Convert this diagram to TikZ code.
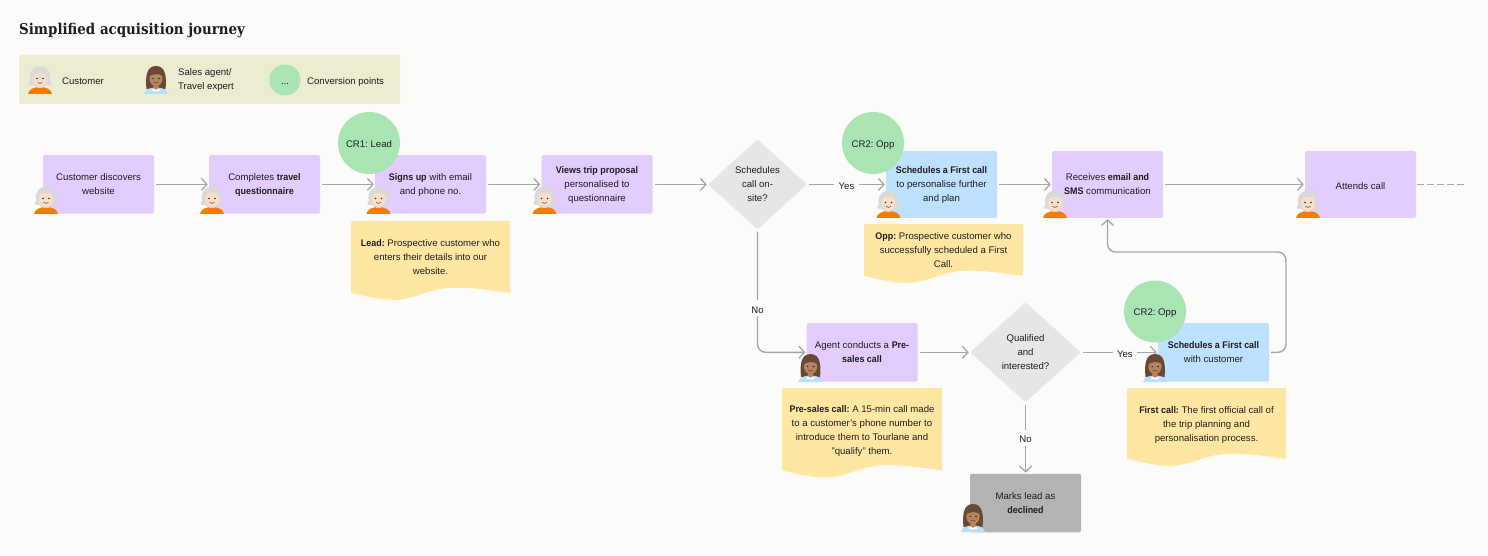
\documentclass[tikz,border=0pt]{standalone}
\usepackage{fontspec}
\setmainfont{Liberation Sans}[BoldFeatures={FakeStretch=0.93}]
\newfontfamily\titlefont{DejaVu Serif Condensed}
\usetikzlibrary{arrows.meta,shapes.geometric}
\definecolor{bgc}{HTML}{FBFBF9}
\definecolor{purp}{HTML}{E3CCFF}
\definecolor{blu}{HTML}{BDE1FF}
\definecolor{yel}{HTML}{FFE7A3}
\definecolor{grn}{HTML}{A9E4B3}
\definecolor{dia}{HTML}{E6E6E6}
\definecolor{gry}{HTML}{B3B3B3}
\definecolor{leg}{HTML}{ECECD3}
\definecolor{linec}{HTML}{A6A6A6}
\definecolor{txt}{HTML}{1E1E1E}
\definecolor{HTML1}{HTML}{E9C9A9}
\definecolor{HTML2}{HTML}{D9D9D9}
\definecolor{HTML3}{HTML}{F9DFC8}
\definecolor{HTML4}{HTML}{6A4736}
\definecolor{HTML5}{HTML}{BBDFFB}
\definecolor{HTML6}{HTML}{B6845C}
\definecolor{orng}{HTML}{F57C00}
\tikzset{
  lab/.style={font=\fontsize{9.6}{14}\selectfont\frenchspacing,text=txt,align=center,inner sep=0pt,
    execute at begin node={\rule{0pt}{10pt}}},
  ml/.style={text depth=-5pt},
  stepbox/.style={lab,rectangle,rounded corners=1.5pt,minimum width=111pt,minimum height=58.5pt},
  tallbox/.style={stepbox,minimum height=67pt},
  purple/.style={fill=purp},
  blue/.style={fill=blu},
  greybox/.style={fill=gry},
  decide/.style={lab,ml,diamond,fill=dia,rounded corners=1.5pt,aspect=1.1},
  conv/.style={lab,circle,fill=grn,minimum size=62pt},
  notetext/.style={lab,ml},
  notefill/.style={fill=yel,rounded corners=1pt},
  conn/.style={draw=linec,line width=1.4pt,-{Straight Barb[length=5.5pt,width=12pt,line width=1.3pt]},shorten <=2pt,shorten >=1pt},
  plainconn/.style={draw=linec,line width=1.4pt},
  edgelab/.style={lab,fill=bgc,inner xsep=4.5pt,inner ysep=3pt},
  legtext/.style={lab,anchor=west,align=left},
  customer/.pic={
    \fill[orng] (-12,0) .. controls (-11.5,-4.5) and (-6,-7) .. (0,-7) .. controls (6,-7) and (11.5,-4.5) .. (12,0) -- cycle;
    \fill[HTML1] (-2.6,-9) rectangle (2.6,-5.5);
    \fill[HTML2] (0,-17) ellipse [x radius=10.2,y radius=10.6];
    \fill[HTML2] (-9,-11) circle [radius=2.2] (9,-11) circle [radius=2.2];
    \fill[HTML3] (0,-15) ellipse [x radius=7,y radius=7.8];
    \fill[HTML2] (-7.5,-19) .. controls (-4,-22) and (4,-22) .. (7.5,-19) -- (7,-24) -- (-7,-24) -- cycle;
    \fill[black!80] (-3,-15.5) circle [radius=.9] (3,-15.5) circle [radius=.9];
    \draw[black!70,line width=.6pt] (-2.4,-11.5) .. controls (-1,-10.4) and (1,-10.4) .. (2.4,-11.5);
  },
  agent/.pic={
    \fill[HTML4] (-9.5,-5) .. controls (-10.5,-15) and (-10.5,-28) .. (0,-28) .. controls (10.5,-28) and (10.5,-15) .. (9.5,-5) -- cycle;
    \fill[HTML5] (-12,0) .. controls (-11.5,-4.5) and (-6,-6.5) .. (0,-6.5) .. controls (6,-6.5) and (11.5,-4.5) .. (12,0) -- cycle;
    \fill[white] (-4.5,-3.5) -- (0,-6.6) -- (4.5,-3.5) -- (0,-2.5) -- cycle;
    \fill[HTML6] (-2.6,-9.5) -- (2.6,-9.5) -- (2.6,-6) -- (0,-4.2) -- (-2.6,-6) -- cycle;
    \fill[HTML6] (0,-15.5) ellipse [x radius=6.6,y radius=7.6];
    \fill[HTML4] (-6.8,-18) .. controls (-3,-20) and (3,-21) .. (6.8,-18) -- (6,-25) -- (-6,-25) -- cycle;
    \fill[black!85] (-2.9,-15.5) circle [radius=.85] (2.9,-15.5) circle [radius=.85];
    \draw[black!70,line width=.6pt] (-2.2,-11.7) .. controls (-1,-10.8) and (1,-10.8) .. (2.2,-11.7);
  },
}
% note background: x1 y1 x2 ybottom
\newcommand{\notebg}[4]{%
  \fill[notefill] (#1,#2) -- (#3,#2) -- (#3,#4)
   .. controls ({#1+.87*(#3-#1)},{#4-3}) and ({#1+.77*(#3-#1)},{#4-5.3}) .. ({#1+.65*(#3-#1)},{#4-5.3})
   .. controls ({#1+.5*(#3-#1)},{#4-5.3}) and ({#1+.4*(#3-#1)},{#4+6.8}) .. ({#1+.27*(#3-#1)},{#4+6.8})
   .. controls ({#1+.17*(#3-#1)},{#4+6.8}) and ({#1+.08*(#3-#1)},{#4+2.5}) .. (#1,#4) -- cycle;}
\begin{document}
\begin{tikzpicture}[x=1pt,y=-1pt]
\useasboundingbox (0,0) rectangle (1488,556);
\fill[bgc] (0,0) rectangle (1488,556);

\node[anchor=west,inner sep=0pt,text=txt] (title) at (19,30.5) {\titlefont\bfseries\fontsize{14.9}{18}\selectfont Simplified acquisition journey};

% legend
\fill[leg,rounded corners=1.5pt] (19,55) rectangle (400,104);
\pic at (40,94) {customer};
\node[legtext] (lc) at (62,80) {Customer};
\pic at (156,94) {agent};
\node[legtext,ml] (la) at (178,79) {Sales agent/\\Travel expert};
\node[lab,circle,fill=grn,minimum size=31pt] (lg) at (285,80) {...};
\node[legtext] (lp) at (307,80) {Conversion points};

% steps
\node[stepbox,ml,purple] (b1) at (98.5,184.4) {Customer discovers\\website};
\node[stepbox,ml,purple] (b2) at (264.5,184.4) {Completes \textbf{travel}\\\textbf{questionnaire}};
\node[stepbox,ml,purple] (b3) at (430.5,184.4) {\textbf{Signs up} with email\\and phone no.};
\node[stepbox,ml,purple] (b4) at (597,184.4) {\textbf{Views trip proposal}\\personalised to\\questionnaire};
\node[decide,minimum width=99pt,minimum height=90pt] (d1) at (757.5,184.4) {Schedules\\call on-\\site?};
\node[tallbox,ml,blue] (b5) at (941.5,184.4) {\textbf{Schedules a First call}\\to personalise further\\and plan};
\node[tallbox,ml,purple] (b6) at (1107.5,184.4) {Receives \textbf{email and}\\\textbf{SMS} communication};
\node[tallbox,purple] (b7) at (1360.5,184.4) {Attends call};
\node[stepbox,ml,purple] (p1) at (862,352.3) {Agent conducts a \textbf{Pre-}\\\textbf{sales call}};
\node[decide,minimum width=111pt,minimum height=100pt] (d2) at (1025.5,352.3) {Qualified\\and\\interested?};
\node[stepbox,ml,blue] (s2) at (1213.5,352.3) {\textbf{Schedules a First call}\\with customer};
\node[stepbox,ml,greybox] (m1) at (1025.5,503) {Marks lead as\\\textbf{declined}};
\coordinate (dashend) at (1465,184.4);
\coordinate (rA) at (1286,252);

% connectors
\draw[conn] (b1) -- (b2);
\draw[conn] (b2) -- (b3);
\draw[conn] (b3) -- (b4);
\draw[conn] (b4) -- (d1);
\draw[conn] (d1) -- node[edgelab] (y1) {Yes} (b5);
\draw[conn] (b5) -- (b6);
\draw[conn] (b6) -- (b7);
\draw[plainconn,dash pattern=on 6.5pt off 3.5pt,shorten <=1pt] (b7.east) -- (dashend);
\draw[conn,rounded corners=8pt] (d1.south) |- node[edgelab,pos=.32] (n1) {No} (p1.west);
\draw[conn] (p1) -- (d2);
\draw[conn] (d2) -- node[edgelab,pos=.57] (y2) {Yes} (s2);
\draw[conn] (d2) -- node[edgelab,pos=.5] (n2) {No} (m1);
\draw[conn,rounded corners=8pt] (s2.east) -| (rA) -| (b6.south);

% conversion circles
\node[conv] (c1) at (369,143) {CR1: Lead};
\node[conv] (c2) at (873,143) {CR2: Opp};
\node[conv] (c3) at (1155,311.5) {CR2: Opp};

% people
\pic at (46,214) {customer};
\pic at (212,214) {customer};
\pic at (378.5,214) {customer};
\pic at (544.5,214) {customer};
\pic at (888.5,218) {customer};
\pic at (1055,218) {customer};
\pic at (1308,218) {customer};
\pic at (810.5,382) {agent};
\pic at (1155,382) {agent};
\pic at (973,532) {agent};

% notes
\notebg{351}{221}{510}{293}
\node[notetext] (nt1) at (430.5,257) {\textbf{Lead:} Prospective customer who\\enters their details into our\\website.};
\notebg{864}{224}{1023}{276}
\node[notetext] (nt2) at (943.5,250.5) {\textbf{Opp:} Prospective customer who\\successfully scheduled a First\\Call.};
\notebg{782}{388}{942}{470.5}
\node[notetext] (nt3) at (862,430.5) {\textbf{Pre-sales call:} A 15-min call made\\to a customer's phone number to\\introduce them to Tourlane and\\"qualify" them.};
\notebg{1127}{388}{1286}{459}
\node[notetext] (nt4) at (1206.5,424.5) {\textbf{First call:} The first official call of\\the trip planning and\\personalisation process.};
\end{tikzpicture}
\end{document}
